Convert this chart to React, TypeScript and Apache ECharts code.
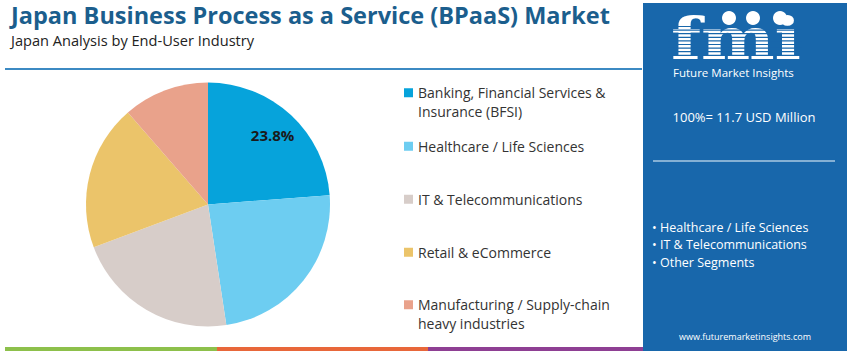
import React, { useEffect, useRef } from "react";
import * as echarts from "echarts";

const TITLE = "Japan Business Process as a Service (BPaaS) Market";
const SUBTITLE = "Japan Analysis by End-User Industry";
const CATEGORIES = [
  "Banking, Financial Services &\nInsurance (BFSI)",
  "Healthcare / Life Sciences",
  "IT & Telecommunications",
  "Retail & eCommerce",
  "Manufacturing / Supply-chain\nheavy industries",
];
const SHARES = [23.8, 23.8, 21.7, 19.3, 11.4];
const SHOWN_LABELS = [true, false, false, false, false];
const COLORS = ["#06A3DB", "#6DCDF1", "#D7CDC9", "#EBC46A", "#E9A28B"];
const TOTAL_TEXT = "100%= 11.7 USD Million";
const KEY_SEGMENTS = ["Healthcare / Life Sciences", "IT & Telecommunications", "Other Segments"];
const WEBSITE = "www.futuremarketinsights.com";
const BRAND = "Future Market Insights";

const FONT = "'Open Sans', 'Noto Sans', sans-serif";
const PANEL = "#1867AB";

export default function App() {
  const ref = useRef<HTMLDivElement>(null);
  useEffect(() => {
    if (!ref.current) return;
    const chart = echarts.init(ref.current, null, { renderer: "svg" });
    const data = CATEGORIES.map((name, i) => ({
      name,
      value: SHARES[i],
      itemStyle: { color: COLORS[i] },
    }));
    const legendTops = [65, 137, 190, 243, 277];
    const legends = CATEGORIES.map((name, i) => ({
      data: [name],
      left: 404,
      top: legendTops[i],
      padding: 0,
      itemWidth: 9,
      itemHeight: 9,
      itemGap: 6,
      icon: "rect",
      selectedMode: false,
      formatter: (n: string) => (n.includes("\n") ? " \n" + n : n),
      textStyle: {
        fontFamily: FONT,
        fontSize: 14,
        color: "#333",
        lineHeight: 18.5,
      },
    }));

    const stripes: any[] = [];
    for (let y = 26.5; y <= 58; y += 3.6) {
      stripes.push({
        type: "line",
        shape: { x1: 668, y1: y, x2: 802, y2: y },
        style: { stroke: PANEL, lineWidth: 1.2 },
        silent: true,
      });
    }

    const option: any = {
      animation: false,
      backgroundColor: "#fff",
      title: {
        text: TITLE,
        subtext: SUBTITLE,
        left: 11,
        top: 3,
        padding: 0,
        itemGap: 5,
        textStyle: { fontFamily: FONT, fontSize: 23.5, fontWeight: "bold", color: "#1B5E8D" },
        subtextStyle: { fontFamily: FONT, fontSize: 14.6, color: "#222" },
      },
      legend: legends,
      graphic: [
        {
          type: "line",
          shape: { x1: 5, y1: 69, x2: 642, y2: 69 },
          style: { stroke: "#3C8AC3", lineWidth: 2 },
        },
        { type: "rect", shape: { x: 643, y: 3, width: 204, height: 348 }, style: { fill: PANEL } },
        {
          type: "text",
          x: 671,
          y: 39,
          scaleX: 1.2,
          style: {
            text: "fmi",
            font: "bold 58px 'DejaVu Serif', serif",
            lineHeight: 40,
            fill: "#fff",
            verticalAlign: "middle",
          },
        },
        ...stripes,
        { type: "circle", shape: { cx: 729, cy: 18, r: 7 }, style: { fill: "#fff" } },
        { type: "circle", shape: { cx: 753, cy: 18, r: 7 }, style: { fill: "#fff" } },
        { type: "circle", shape: { cx: 780, cy: 18, r: 7 }, style: { fill: "#fff" } },
        {
          type: "text",
          x: 673,
          y: 72,
          style: { text: BRAND, font: `11.5px ${FONT}`, fill: "#fff", verticalAlign: "middle" },
        },
        {
          type: "text",
          x: 744,
          y: 117,
          style: {
            text: TOTAL_TEXT,
            font: `13px ${FONT}`,
            fill: "#fff",
            align: "center",
            verticalAlign: "middle",
          },
        },
        {
          type: "line",
          shape: { x1: 653, y1: 161, x2: 835, y2: 161 },
          style: { stroke: "#A9C8E2", lineWidth: 1.5 },
        },
        ...KEY_SEGMENTS.map((s, i) => ({
          type: "text",
          x: 652,
          y: 227 + i * 17.5,
          style: {
            text: "\u2022 " + s,
            font: `12.5px ${FONT}`,
            fill: "#fff",
            verticalAlign: "middle",
          },
        })),
        {
          type: "text",
          x: 745,
          y: 336,
          style: {
            text: WEBSITE,
            font: `9px ${FONT}`,
            fill: "#fff",
            align: "center",
            verticalAlign: "middle",
          },
        },
        { type: "rect", shape: { x: 5, y: 347, width: 212, height: 4 }, style: { fill: "#8DC04B" } },
        { type: "rect", shape: { x: 217, y: 347, width: 211, height: 4 }, style: { fill: "#E8673A" } },
        { type: "rect", shape: { x: 428, y: 347, width: 215, height: 4 }, style: { fill: "#8E3F93" } },
      ],
      series: [
        {
          type: "pie",
          center: [208, 204.5],
          radius: 122,
          startAngle: 90,
          clockwise: true,
          label: { show: false },
          labelLine: { show: false },
          emphasis: { disabled: true },
          data,
        },
        {
          type: "pie",
          center: [208, 204.5],
          radius: [62, 122],
          startAngle: 90,
          clockwise: true,
          silent: true,
          legendHoverLink: false,
          itemStyle: { color: "transparent" },
          labelLine: { show: false },
          emphasis: { disabled: true },
          label: {
            show: true,
            position: "inside",
            fontFamily: FONT,
            fontSize: 15,
            fontWeight: "bold",
            color: "#1a1a1a",
            formatter: (p: any) => (SHOWN_LABELS[p.dataIndex] ? `${p.value.toFixed(1)}%` : ""),
          },
          data: CATEGORIES.map((name, i) => ({ name: "ring" + i, value: SHARES[i] })),
        },
      ],
    };
    chart.setOption(option);
    return () => chart.dispose();
  }, []);
  return (
    <div
      ref={ref}
      style={{ position: "fixed", left: 0, top: 0, width: 850, height: 351 }}
    />
  );
}
